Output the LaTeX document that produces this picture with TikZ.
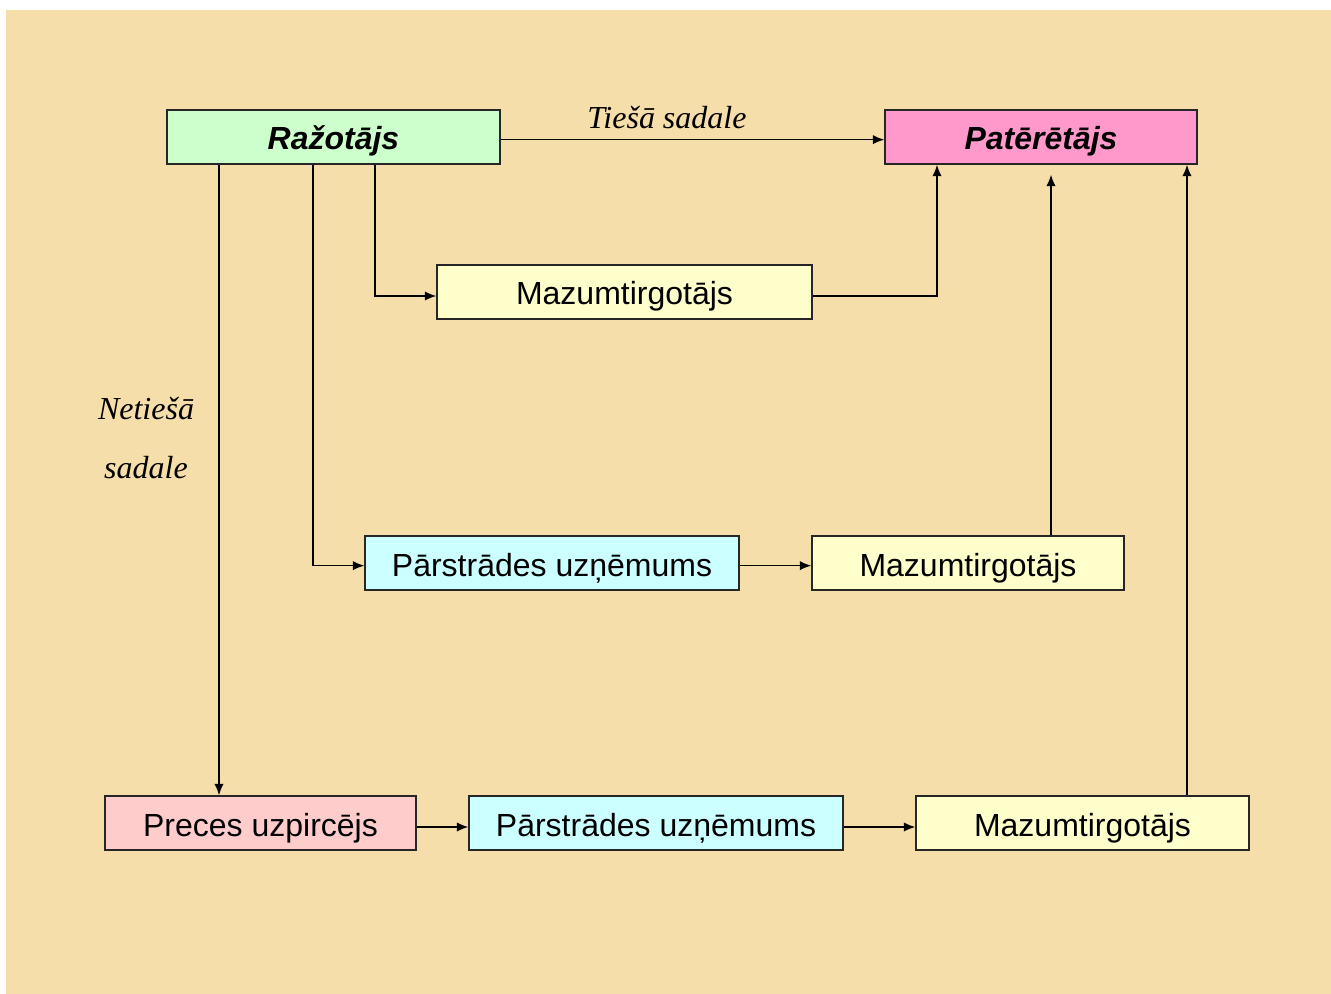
\documentclass[tikz,border=0pt]{standalone}
\usepackage{fontspec}
\setmainfont{Liberation Serif}
\setsansfont{Liberation Sans}
\usepackage{xcolor}
\usetikzlibrary{arrows.meta}

\definecolor{paper}{RGB}{245,222,170}
\definecolor{razgreen}{RGB}{204,255,204}
\definecolor{patpink}{RGB}{255,153,204}
\definecolor{mazyellow}{RGB}{255,255,204}
\definecolor{parcyan}{RGB}{204,255,255}
\definecolor{precrose}{RGB}{255,204,204}

\begin{document}
\begin{tikzpicture}[x=0.75pt, y=-0.75pt,
    box/.style={draw=black!85, line width=1.2pt, minimum height=40.5pt, inner sep=0pt,
        text height=22pt, text depth=2.5pt,
        font=\sffamily\fontsize{24}{28}\selectfont},
    mainbox/.style={box, font=\sffamily\bfseries\itshape\fontsize{24}{28}\selectfont},
    lbl/.style={font=\itshape\fontsize{24}{44}\selectfont, align=center},
    arr/.style={line width=1pt, -{Latex[length=8.5pt, width=7pt]}}]
    \useasboundingbox (0,0) rectangle (1331,994);
    \fill[paper] (6,10) rectangle (1331,994);

    % top row
    \node[mainbox, fill=razgreen, minimum width=249.75pt] (raz) at (333.5,137) {Ražotājs};
    \node[mainbox, fill=patpink, minimum width=234pt] (pat) at (1041,137) {Patērētājs};
    \node[lbl] (tiesa) at (667,118) {Tiešā sadale};
    \node[lbl] (netiesa) at (146,438) {Netiešā\\sadale};

    % middle rows
    \node[box, fill=mazyellow, minimum width=281.25pt] (maz1) at (624.5,292) {Mazumtirgotājs};
    \node[box, fill=parcyan, minimum width=280.5pt] (par1) at (552,563) {Pārstrādes uzņēmums};
    \node[box, fill=mazyellow, minimum width=234pt] (maz2) at (968,563) {Mazumtirgotājs};

    % bottom row
    \node[box, fill=precrose, minimum width=233.25pt] (prec) at (260.5,823) {Preces uzpircējs};
    \node[box, fill=parcyan, minimum width=280.5pt] (par2) at (656,823) {Pārstrādes uzņēmums};
    \node[box, fill=mazyellow, minimum width=249.75pt] (maz3) at (1082.5,823) {Mazumtirgotājs};

    % x positions of the vertical lines
    \coordinate (d1) at (219,0);
    \coordinate (d2) at (313,0);
    \coordinate (d3) at (375,0);
    \coordinate (u1) at (937,0);
    \coordinate (u2) at (1051,0);
    \coordinate (u3) at (1187,0);

    \draw[arr] ([yshift=-2pt]raz.east) -- ([yshift=-2pt]pat.west);
    \draw[arr] (raz.south -| d1) -- (prec.north -| d1);
    \draw[arr] (raz.south -| d2) |- ([yshift=-2pt]par1.west);
    \draw[arr] (raz.south -| d3) |- ([yshift=-3pt]maz1.west);
    \draw[arr] ([yshift=-3pt]maz1.east) -| (pat.south -| u1);
    \draw[arr] ([yshift=-2pt]par1.east) -- ([yshift=-2pt]maz2.west);
    \draw[arr, shorten >=7.5pt] (maz2.north -| u2) -- (pat.south -| u2);
    \draw[arr] (maz3.north -| u3) -- (pat.south -| u3);
    \draw[arr] ([yshift=-3pt]prec.east) -- ([yshift=-3pt]par2.west);
    \draw[arr] ([yshift=-3pt]par2.east) -- ([yshift=-3pt]maz3.west);
\end{tikzpicture}
\end{document}
